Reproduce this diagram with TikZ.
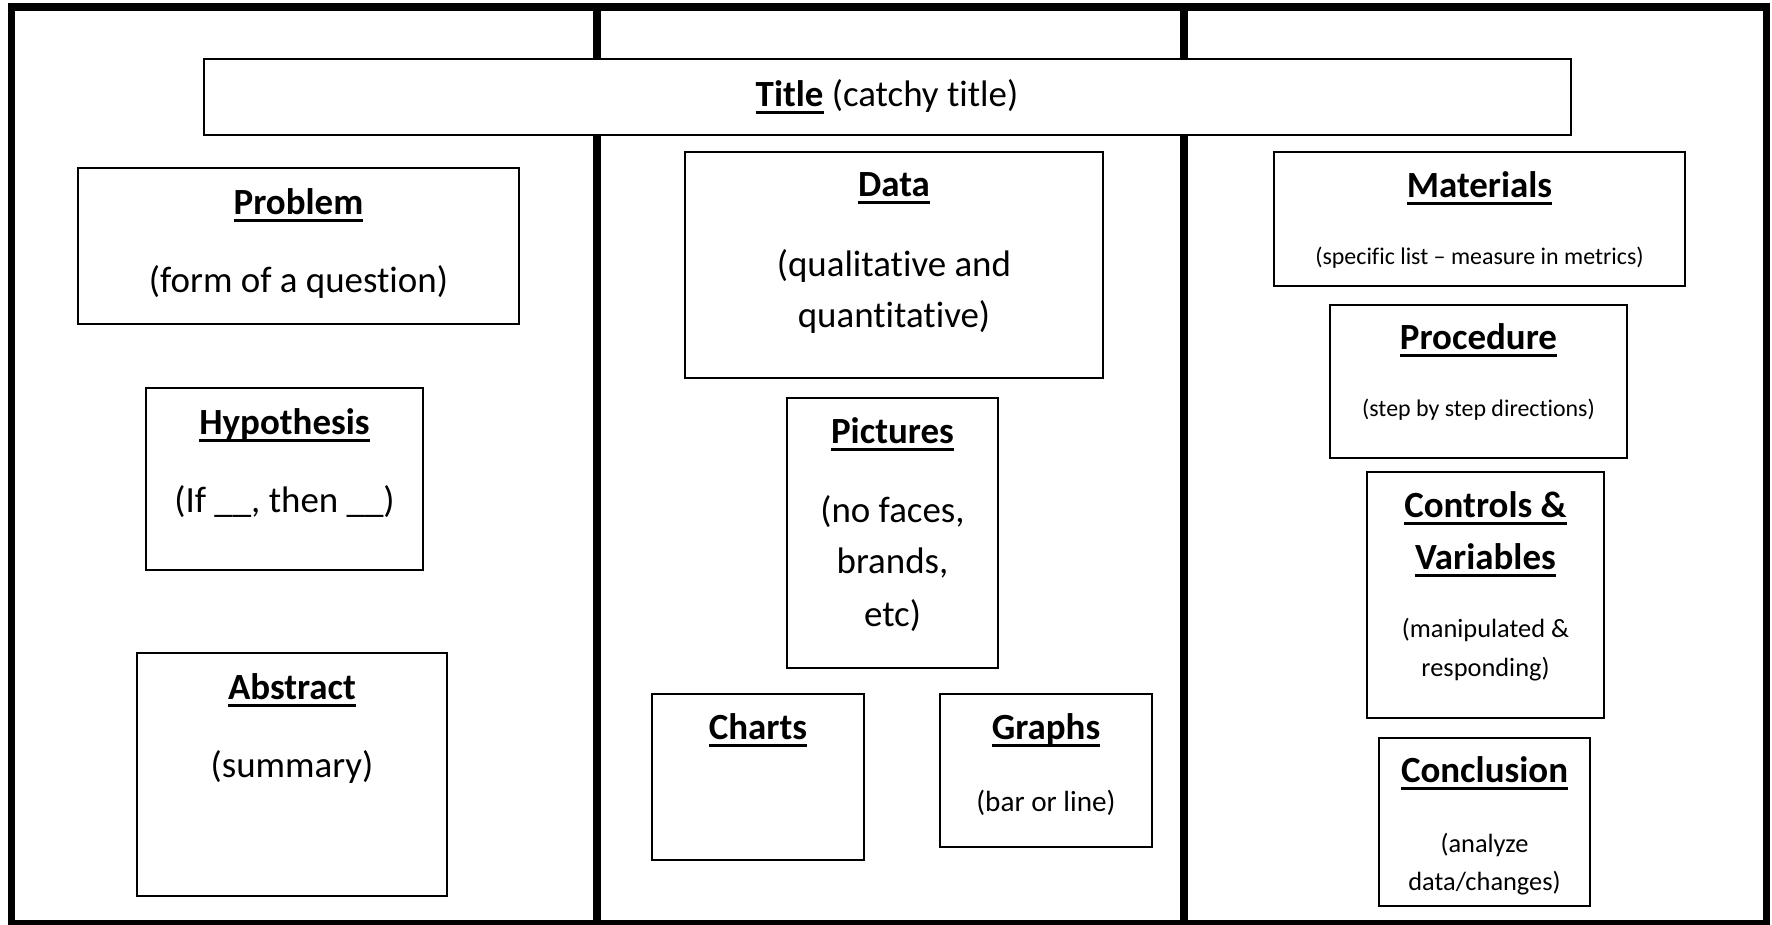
\documentclass[tikz,border=0pt]{standalone}
\usepackage{fontspec}
\setmainfont{Carlito}[Ligatures={TeX,NoCommon}]
\newcommand{\hdline}[1]{\setbox0=\hbox{#1}\rlap{\rule[-1.9pt]{\wd0}{0.9pt}}\box0\relax}

\begin{document}
\begin{tikzpicture}[x=0.01cm,y=-0.01cm,
  frame/.style={line width=2pt},
  box/.style={draw,line width=0.7pt,fill=white},
  head/.style={anchor=base,font=\fontsize{10.5}{12}\selectfont\bfseries},
  big/.style={anchor=base,font=\fontsize{10.5}{12}\selectfont},
  mid/.style={anchor=base,font=\fontsize{8.3}{10}\selectfont},
  small/.style={anchor=base,font=\fontsize{7.5}{9}\selectfont},
  tiny/.style={anchor=base,font=\fontsize{6.8}{8}\selectfont}]
\useasboundingbox (0,0) rectangle (1772,925);
\fill[white] (0,0) rectangle (1772,925);

% outer frame and columns
\draw[frame] (11.5,7) rectangle (1766,924);
\draw[frame] (597,7) -- (597,924);
\draw[frame] (1184,7) -- (1184,924);

% title
\draw[box] (204,59) rectangle (1571,135);
\node[big] (title) at (887,107) {\hdline{\textbf{Title}} (catchy title)};

% left column
\draw[box] (78,168) rectangle (519,324);
\node[head] (problem-h) at (298.5,215) {\hdline{Problem}};
\node[big] (problem-t) at (298.5,293) {(form of a question)};

\draw[box] (146,388) rectangle (423,570);
\node[head] (hypo-h) at (284.5,435) {\hdline{Hypothesis}};
\node[big] (hypo-t) at (284.5,513) {(If \_\_, then \_\_)};

\draw[box] (137,653) rectangle (447,896);
\node[head] (abstract-h) at (292,700) {\hdline{Abstract}};
\node[big] (abstract-t) at (292,778) {(summary)};

% middle column
\draw[box] (685,152) rectangle (1103,378);
\node[head] (data-h) at (894,197) {\hdline{Data}};
\node[big] (data-t1) at (894,277) {(qualitative and};
\node[big] (data-t2) at (894,328) {quantitative)};

\draw[box] (787,398) rectangle (998,668);
\node[head] (pict-h) at (892.5,444) {\hdline{Pictures}};
\node[big] (pict-t1) at (892.5,523) {(no faces,};
\node[big] (pict-t2) at (892.5,574) {brands,};
\node[big] (pict-t3) at (892.5,627) {etc)};

\draw[box] (652,694) rectangle (864,860);
\node[head] (charts-h) at (758,740) {\hdline{Charts}};

\draw[box] (940,694) rectangle (1152,847);
\node[head] (graphs-h) at (1046,740) {\hdline{Graphs}};
\node[mid] (graphs-t) at (1046,812) {(bar or line)};

% right column
\draw[box] (1274,152) rectangle (1685,286);
\node[head] (mat-h) at (1479.5,198) {\hdline{Materials}};
\node[tiny] (mat-t) at (1479.5,265) {(specific list -- measure in metrics)};

\draw[box] (1330,305) rectangle (1627,458);
\node[head] (proc-h) at (1478.5,350) {\hdline{Procedure}};
\node[tiny] (proc-t) at (1478.5,417) {(step by step directions)};

\draw[box] (1367,472) rectangle (1604,718);
\node[head] (ctrl-h1) at (1485.5,518) {\hdline{Controls \&}};
\node[head] (ctrl-h2) at (1485.5,570) {\hdline{Variables}};
\node[small] (ctrl-t1) at (1485.5,638) {(manipulated \&};
\node[small] (ctrl-t2) at (1485.5,677) {responding)};

\draw[box] (1379,738) rectangle (1590,906);
\node[head] (concl-h) at (1484.5,783) {\hdline{Conclusion}};
\node[small] (concl-t1) at (1484.5,853) {(analyze};
\node[small] (concl-t2) at (1484.5,891) {data/changes)};
\end{tikzpicture}
\end{document}
